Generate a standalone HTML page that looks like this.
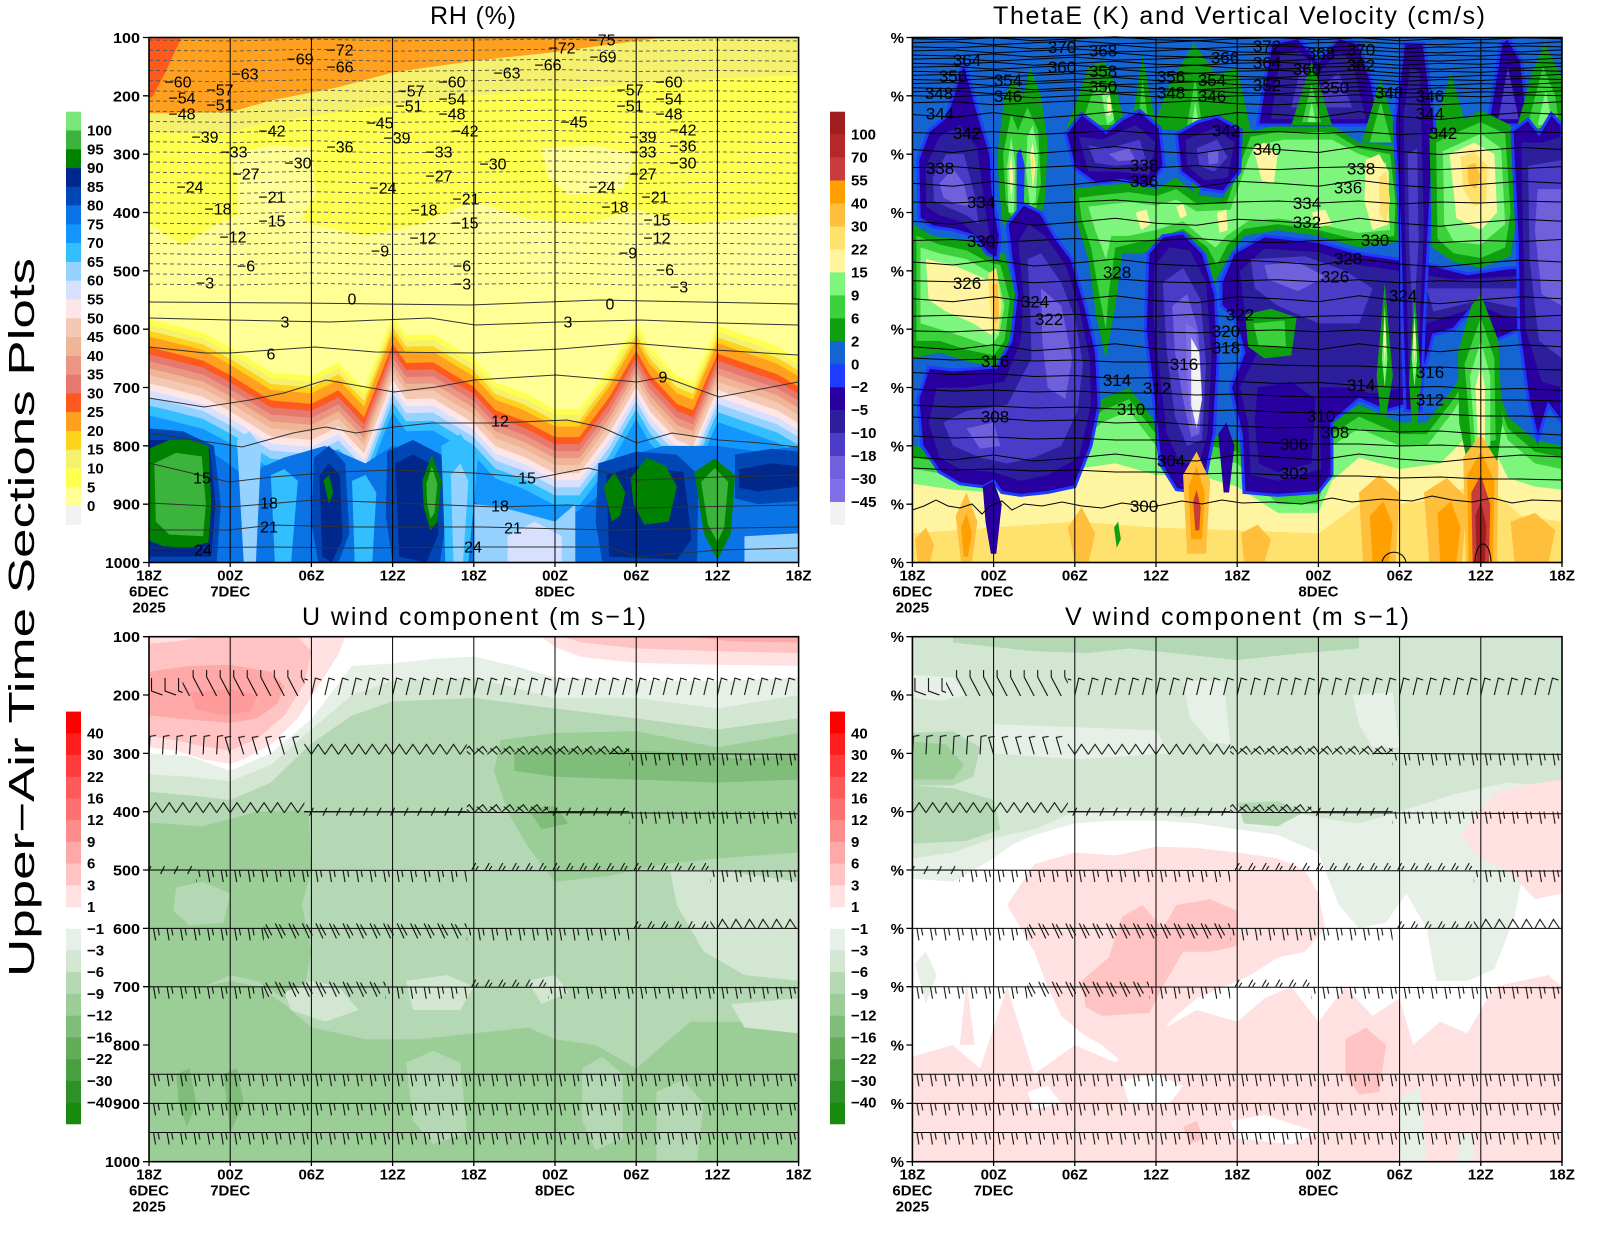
<!DOCTYPE html>
<html><head><meta charset="utf-8"><style>
html,body{margin:0;padding:0;background:#fff}
svg{display:block}
text{font-family:"Liberation Sans",sans-serif}
.ax{font-weight:bold;font-size:15px}
.cl{font-size:16px;text-anchor:middle}
.tl{font-size:17px;text-anchor:middle}
</style></head><body>
<svg xmlns="http://www.w3.org/2000/svg" width="1600" height="1236" viewBox="0 0 1600 1236">
<defs>
<polygon id="mb" points="0,613 1.3,620 4,636 6,661 9,704 12,710 14,687 15.9,733 18,607 19,640 21,639 24,681 25.6,721 27.7,739 30,767 31.8,767 34,699 36,619 37,660 39,710 40.2,721 42,624 44,640 46.4,659 48,681 48,1100 0,1100"/>
<path id="wa" d="M0,0 L40.6,1 L81.2,-1 L121.8,2 L162.4,0 L203,-2 L243.6,1 L284.2,2 L324.8,0 L365.4,-1 L406,1 L446.6,-1 L487.2,2 L527.8,0 L568.4,1 L609,-1 L649.6,0"/>
<path id="wb" d="M0,0 L40.6,-1 L81.2,2 L121.8,0 L162.4,-2 L203,1 L243.6,0 L284.2,-2 L324.8,1 L365.4,2 L406,0 L446.6,-1 L487.2,1 L527.8,2 L568.4,0 L609,1 L649.6,-1"/>
<path id="wc" d="M0,-5 L40.6,-3 L81.2,-4 L121.8,-2 L162.4,-3 L203,-1 L243.6,-1 L284.2,1 L324.8,0 L365.4,2 L406,3 L446.6,3 L487.2,5 L527.8,4 L568.4,6 L609,6 L649.6,7"/>
<path id="wd" d="M0,0 L40.6,3 L81.2,-2 L121.8,4 L162.4,1 L203,-3 L243.6,2 L284.2,4 L324.8,-2 L365.4,0 L406,3 L446.6,-3 L487.2,2 L527.8,5 L568.4,1 L609,-2 L649.6,0"/>
<path id="we" d="M0,-8 L40.6,-6 L81.2,-7 L121.8,-4 L162.4,-5 L203,-2 L243.6,-3 L284.2,0 L324.8,1 L365.4,3 L406,2 L446.6,5 L487.2,7 L527.8,6 L568.4,9 L609,8 L649.6,10"/>
<path id="rd" d="M0,0 L81,1 L162,-1 L244,1 L325,0 L406,-1 L487,1 L568,0 L649.6,1"/>
<pattern id="pW" patternUnits="userSpaceOnUse" x="-12" y="-30" width="13.533" height="45"><path d="M3,30 L5,42 M7.5,30 L8.8,37" stroke="#000" stroke-width="1" fill="none"/></pattern>
<pattern id="pL" patternUnits="userSpaceOnUse" x="-13" y="-30" width="13.533" height="45"><path d="M13,30 L2,26 L2,13" stroke="#000" stroke-width="1" fill="none"/></pattern>
<pattern id="pNW" patternUnits="userSpaceOnUse" x="-13" y="-30" width="13.533" height="45"><path d="M13,31 L3,12 L3,5" stroke="#000" stroke-width="1" fill="none"/></pattern>
<pattern id="pNE" patternUnits="userSpaceOnUse" x="-2" y="-30" width="13.533" height="45"><path d="M2,30 L6,13 L12,15" stroke="#000" stroke-width="1" fill="none"/></pattern>
<pattern id="pN" patternUnits="userSpaceOnUse" x="-3" y="-30" width="13.533" height="45"><path d="M3,31 L4,13 L10,12" stroke="#000" stroke-width="1" fill="none"/></pattern>
<pattern id="pN2" patternUnits="userSpaceOnUse" x="-10" y="-30" width="13.533" height="45"><path d="M10,31 L5,14 L11,13" stroke="#000" stroke-width="1" fill="none"/></pattern>
<pattern id="pZ" patternUnits="userSpaceOnUse" x="0" y="-30" width="13.533" height="45"><path d="M0,31 L6.77,21 L13.533,31" stroke="#000" stroke-width="1" fill="none"/></pattern>
<pattern id="pX" patternUnits="userSpaceOnUse" x="0" y="-30" width="13.533" height="45"><path d="M0,31 L9,23 L13.533,29 M3,25 L10,31" stroke="#000" stroke-width="1" fill="none"/></pattern>
<pattern id="pC" patternUnits="userSpaceOnUse" x="-6" y="-30" width="13.533" height="45"><path d="M4,34 L8,26 M0,30 L13.533,30" stroke="#000" stroke-width="1" fill="none"/></pattern>
<pattern id="pU" patternUnits="userSpaceOnUse" x="-6" y="-30" width="13.533" height="45"><path d="M4,30 L8,23 M8,30 L10.5,26" stroke="#000" stroke-width="1" fill="none"/></pattern>
<pattern id="pS" patternUnits="userSpaceOnUse" x="-10" y="-30" width="13.533" height="45"><path d="M1,25 L8,40 M5,26 L11,37" stroke="#000" stroke-width="1" fill="none"/></pattern>
<pattern id="pZs" patternUnits="userSpaceOnUse" x="0" y="-30" width="13.533" height="45"><path d="M0,30 L5,21 L11,30" stroke="#000" stroke-width="1" fill="none"/></pattern>
<g id="barbs" fill="none" stroke="#000" stroke-width="1">
 <g transform="translate(0,58.33)">
  <rect x="-7" y="-30" width="40.6" height="45" fill="url(#pL)" stroke="none"/>
  <rect x="33.6" y="-30" width="121.8" height="45" fill="url(#pNW)" stroke="none"/>
  <rect x="155.4" y="-30" width="500" height="45" fill="url(#pNE)" stroke="none"/>
 </g>
 <g transform="translate(0,116.67)">
  <rect x="-7" y="-30" width="81.2" height="45" fill="url(#pN)" stroke="none"/>
  <rect x="74.2" y="-30" width="81.2" height="45" fill="url(#pN2)" stroke="none"/>
  <rect x="155.4" y="-30" width="162.4" height="45" fill="url(#pZ)" stroke="none"/>
  <rect x="317.8" y="-30" width="162.4" height="45" fill="url(#pX)" stroke="none"/>
  <rect x="480.2" y="-30" width="175" height="45" fill="url(#pW)" stroke="none"/>
  <path d="M460,0 L649.6,1"/>
 </g>
 <g transform="translate(0,175)">
  <rect x="-7" y="-30" width="162.4" height="45" fill="url(#pZ)" stroke="none"/>
  <rect x="155.4" y="-30" width="162.4" height="45" fill="url(#pC)" stroke="none"/>
  <rect x="317.8" y="-30" width="81.2" height="45" fill="url(#pX)" stroke="none"/>
  <rect x="399" y="-30" width="81.2" height="45" fill="url(#pC)" stroke="none"/>
  <rect x="480.2" y="-30" width="175" height="45" fill="url(#pW)" stroke="none"/>
  <path d="M155,0 L649.6,2"/>
 </g>
 <g transform="translate(0,233.33)">
  <rect x="-7" y="-30" width="54" height="45" fill="url(#pC)" stroke="none"/>
  <rect x="47" y="-30" width="270.8" height="45" fill="url(#pW)" stroke="none"/>
  <rect x="317.8" y="-30" width="243.6" height="45" fill="url(#pU)" stroke="none"/>
  <rect x="561.4" y="-30" width="100" height="45" fill="url(#pW)" stroke="none"/>
  <path d="M0,0 L649.6,1"/>
 </g>
 <g transform="translate(0,291.67)">
  <rect x="-7" y="-30" width="121.8" height="45" fill="url(#pW)" stroke="none"/>
  <rect x="114.8" y="-30" width="203" height="45" fill="url(#pS)" stroke="none"/>
  <rect x="317.8" y="-30" width="162.4" height="45" fill="url(#pW)" stroke="none"/>
  <rect x="480.2" y="-30" width="81.2" height="45" fill="url(#pU)" stroke="none"/>
  <rect x="561.4" y="-30" width="95" height="45" fill="url(#pZs)" stroke="none"/>
  <path d="M0,0 L649.6,0"/>
 </g>
 <g transform="translate(0,350)">
  <rect x="-7" y="-30" width="121.8" height="45" fill="url(#pW)" stroke="none"/>
  <rect x="114.8" y="-30" width="121.8" height="45" fill="url(#pS)" stroke="none"/>
  <rect x="236.6" y="-30" width="81.2" height="45" fill="url(#pW)" stroke="none"/>
  <rect x="317.8" y="-30" width="81.2" height="45" fill="url(#pU)" stroke="none"/>
  <rect x="399" y="-30" width="260" height="45" fill="url(#pW)" stroke="none"/>
  <path d="M0,0 L649.6,1"/>
 </g>
 <g transform="translate(0,437.5)"><rect x="-7" y="-30" width="665" height="45" fill="url(#pW)" stroke="none"/><path d="M0,0 L649.6,0"/></g>
 <g transform="translate(0,466.67)"><rect x="-7" y="-30" width="665" height="45" fill="url(#pW)" stroke="none"/><path d="M0,0 L649.6,0"/></g>
 <g transform="translate(0,495.83)"><rect x="-7" y="-30" width="665" height="45" fill="url(#pW)" stroke="none"/><path d="M0,0 L649.6,0"/></g>
</g>
</defs>

<!-- ===================== RH PANEL ===================== -->
<svg x="149" y="37.5" width="649.6" height="525" viewBox="0 100 48 900" preserveAspectRatio="none">
<rect x="0" y="100" width="48" height="900" fill="#ffff96"/>
<polygon fill="#ffff50" points="0,100 48,100 48,400 44,410 40,420 36,395 32,420 28,410 24,380 20,420 16,440 12,420 9,380 5,420 2.5,455 0,420"/>
<polygon fill="#ffff96" points="6,300 9,285 12,290 12.3,370 11,420 8,430 6.5,400 6.5,340"/>
<polygon fill="#ffff96" points="29,290 33,285 36,300 35,360 31,370 29.5,340"/>
<polygon fill="#f5f06e" points="0,100 48,100 48,165 42,170 36,180 30,190 24,200 18,215 12,235 9,245 6,262 0,265"/>
<polygon fill="#ffa01e" points="0,100 38,100 34,112 30,125 24,140 18,160 14,185 9,208 6,228 0,230"/>
<polygon fill="#ff5a1e" points="0,100 2.4,100 1.2,160 0.3,200 0,205"/>
<use href="#mb" fill="#ffff50" transform="translate(0,-30)"/>
<use href="#mb" fill="#f5f06e" transform="translate(0,-20)"/>
<use href="#mb" fill="#ffd21e" transform="translate(0,-10)"/>
<use href="#mb" fill="#ffa01e"/>
<use href="#mb" fill="#ff5a1e" transform="translate(0,18)"/>
<use href="#mb" fill="#e6786e" transform="translate(0,30)"/>
<use href="#mb" fill="#eb9682" transform="translate(0,42)"/>
<use href="#mb" fill="#f0b496" transform="translate(0,54)"/>
<use href="#mb" fill="#f5c8b4" transform="translate(0,66)"/>
<use href="#mb" fill="#ffe6e6" transform="translate(0,80)"/>
<use href="#mb" fill="#d7e1ff" transform="translate(0,92)"/>
<use href="#mb" fill="#96d2ff" transform="translate(0,104)"/>
<use href="#mb" fill="#32beff" transform="translate(0,118)"/>
<use href="#mb" fill="#1496ff" transform="translate(0,135)"/>
<polygon fill="#0a73e6" points="0,790 4,800 7,850 10,820 13,800 16,830 18,800 21,810 23.5,890 26,920 30,940 33,890 35,820 38,800 42,800 45,810 48,800 48,1000 0,1000"/>
<polygon fill="#0046b4" points="0,770 2.5,775 4.8,800 5.3,900 5,1000 0,1000"/>
<polygon fill="#0046b4" points="12.2,820 13.3,800 14.5,830 14.8,950 14,1000 12.5,1000 12,930"/>
<polygon fill="#0046b4" points="17.6,810 19.5,790 21.6,815 22,920 21.5,1000 18,1000 17.5,920"/>
<polygon fill="#0046b4" points="33.2,830 36,810 39,815 40.6,850 40.5,1000 33.5,1000 33,930"/>
<polygon fill="#0046b4" points="43.3,815 46,805 48,810 48,895 45,900 43.3,890"/>
<polygon fill="#00288c" points="0,790 2,790 4.5,805 4.9,900 4.6,990 0,990"/>
<polygon fill="#00288c" points="12.6,850 13.3,830 14.1,850 14.3,960 13.5,1000 12.8,990"/>
<polygon fill="#00288c" points="18.2,830 19.5,815 21.2,835 21.4,950 20.5,1000 18.5,990"/>
<polygon fill="#00288c" points="33.8,850 36,835 39.5,845 40.1,960 39,995 34,990"/>
<polygon fill="#00288c" points="43.6,840 46,830 48,835 48,870 45,878 43.6,872"/>
<polygon fill="#96d2ff" points="6.5,790 7.4,775 8.3,800 7.9,1000 7,1000"/>
<polygon fill="#32beff" points="21.6,800 23,780 24.3,820 23.6,1000 21.9,1000"/>
<polygon fill="#96d2ff" points="22.3,850 23,830 23.6,860 23.2,1000 22.5,1000"/>
<polygon fill="#96d2ff" points="24,900 26,905 30,930 31.5,900 31.5,1000 24,1000"/>
<polygon fill="#d7e1ff" points="26.5,955 28.5,930 30.5,955 30.5,1000 26.5,1000"/>
<polygon fill="#32beff" points="9,850 10,840 11,860 10.5,1000 9.3,1000"/>
<polygon fill="#32beff" points="15,860 16,850 16.8,880 16.5,1000 15.2,1000"/>
<polygon fill="#96d2ff" points="44,955 48,950 48,1000 44,1000"/>
<polygon fill="#008200" points="0,805 1.5,790 3,790 4.4,800 4.6,900 4.4,965 3,975 1,972 0,962"/>
<polygon fill="#3cb43c" points="0.4,830 2,812 3.9,818 4.2,900 4,955 1.5,952 0.5,930"/>
<polygon fill="#008200" points="20.2,860 20.9,815 21.6,860 21.3,930 20.8,945 20.3,905"/>
<polygon fill="#3cb43c" points="20.5,865 20.9,835 21.3,865 21.1,915 20.8,925 20.55,900"/>
<polygon fill="#008200" points="12.9,860 13.3,850 13.6,880 13.3,900"/>
<polygon fill="#008200" points="33.6,870 34.4,845 35.2,880 34.8,920 34.2,930"/>
<polygon fill="#008200" points="35.6,855 36.8,820 38.2,835 39,870 38.4,930 36.6,935 35.8,900"/>
<polygon fill="#008200" points="40.3,845 41.8,822 43.3,850 43,950 42,995 41,950"/>
<polygon fill="#3cb43c" points="40.8,862 41.8,838 42.8,862 42.5,940 42,965 41.3,935"/>
</svg>
<g fill="none" stroke="#555" stroke-width="0.9" stroke-dasharray="4 3">
<use href="#rd" x="149" y="40"/><use href="#rd" x="149" y="50.2"/><use href="#rd" x="149" y="60.3"/><use href="#rd" x="149" y="70.5"/><use href="#rd" x="149" y="80.7"/>
<use href="#rd" x="149" y="90.9"/><use href="#rd" x="149" y="101"/><use href="#rd" x="149" y="111.2"/><use href="#rd" x="149" y="121.4"/><use href="#rd" x="149" y="131.5"/>
<use href="#rd" x="149" y="141.7"/><use href="#rd" x="149" y="151.9"/><use href="#rd" x="149" y="162"/><use href="#rd" x="149" y="172.2"/><use href="#rd" x="149" y="182.4"/>
<use href="#rd" x="149" y="192.6"/><use href="#rd" x="149" y="202.7"/><use href="#rd" x="149" y="212.9"/><use href="#rd" x="149" y="223.1"/><use href="#rd" x="149" y="233.2"/>
<use href="#rd" x="149" y="243.4"/><use href="#rd" x="149" y="253.6"/><use href="#rd" x="149" y="263.7"/><use href="#rd" x="149" y="273.9"/><use href="#rd" x="149" y="284.1"/>
</g>
<g fill="none" stroke="#333" stroke-width="1">
<path d="M149,302 L300,303 L470,305 L600,300 L798,304"/>
<path d="M149,318 L230,320 L330,322 L430,318 L475,325 L560,322 L640,320 L720,323 L798,325"/>
<path d="M149,347 L205,353 L230,353 L315,347 L375,352 L475,353 L560,349 L630,343 L715,350 L798,355"/>
<path d="M149,398 L204,407 L250,400 L284,393 L326,380 L394,392 L436,387 L474,380 L556,375 L637,382 L664,377 L719,397 L798,382"/>
<path d="M149,433 L242,447 L293,433 L326,427 L356,433 L394,427 L432,423 L495,423 L567,420 L601,427 L637,443 L672,433 L719,440 L761,443 L798,447"/>
<path d="M149,463 L229,482 L272,477 L339,472 L394,470 L474,473 L537,478 L588,468 L637,480 L719,477 L798,475"/>
<path d="M149,503 L229,507 L314,500 L398,503 L495,507 L567,505 L637,508 L798,505"/>
<path d="M149,530 L229,530 L272,525 L356,527 L482,527 L609,530 L798,527"/>
<path d="M149,548 L272,547 L356,548 L474,547 L609,547 L637,557 L719,550 L798,548"/>
</g>
<g stroke="#000" stroke-width="1">
<line x1="230.2" y1="37.5" x2="230.2" y2="562.5"/><line x1="311.4" y1="37.5" x2="311.4" y2="562.5"/><line x1="392.6" y1="37.5" x2="392.6" y2="562.5"/><line x1="473.8" y1="37.5" x2="473.8" y2="562.5"/><line x1="555" y1="37.5" x2="555" y2="562.5"/><line x1="636.2" y1="37.5" x2="636.2" y2="562.5"/><line x1="717.4" y1="37.5" x2="717.4" y2="562.5"/>
</g>
<g class="cl" fill="#000">
<text x="300" y="64.5">−69</text><text x="340" y="55.5">−72</text><text x="340" y="72.5">−66</text><text x="245" y="79.5">−63</text>
<text x="178" y="87.5">−60</text><text x="220" y="95.5">−57</text><text x="182" y="103.5">−54</text><text x="220" y="110.5">−51</text><text x="182" y="119.5">−48</text>
<text x="205" y="142.5">−39</text><text x="272" y="136.5">−42</text><text x="234" y="157.5">−33</text><text x="340" y="152.5">−36</text><text x="298" y="168.5">−30</text>
<text x="246" y="179.5">−27</text><text x="190" y="192.5">−24</text><text x="272" y="202.5">−21</text><text x="218" y="214.5">−18</text><text x="272" y="226.5">−15</text>
<text x="233" y="242.5">−12</text><text x="246" y="271.5">−6</text><text x="205" y="288.5">−3</text><text x="380" y="256.5">−9</text><text x="380" y="128.5">−45</text>
<text x="397" y="143.5">−39</text><text x="383" y="193.5">−24</text><text x="411" y="96.5">−57</text><text x="409" y="111.5">−51</text><text x="452" y="87.5">−60</text>
<text x="452" y="104.5">−54</text><text x="452" y="119.5">−48</text><text x="465" y="136.5">−42</text><text x="439" y="157.5">−33</text><text x="439" y="181.5">−27</text>
<text x="466" y="204.5">−21</text><text x="424" y="215.5">−18</text><text x="465" y="228.5">−15</text><text x="423" y="243.5">−12</text><text x="462" y="271.5">−6</text>
<text x="462" y="289.5">−3</text><text x="493" y="169.5">−30</text><text x="352" y="304.5">0</text><text x="285" y="327.5">3</text><text x="271" y="359.5">6</text>
<text x="507" y="78.5">−63</text><text x="548" y="70.5">−66</text><text x="562" y="53.5">−72</text><text x="602" y="45.5">−75</text><text x="603" y="62.5">−69</text>
<text x="574" y="127.5">−45</text><text x="669" y="87.5">−60</text><text x="630" y="95.5">−57</text><text x="669" y="104.5">−54</text><text x="630" y="111.5">−51</text>
<text x="669" y="119.5">−48</text><text x="683" y="135.5">−42</text><text x="643" y="142.5">−39</text><text x="683" y="151.5">−36</text><text x="643" y="157.5">−33</text>
<text x="683" y="168.5">−30</text><text x="643" y="179.5">−27</text><text x="602" y="192.5">−24</text><text x="655" y="202.5">−21</text><text x="615" y="212.5">−18</text>
<text x="657" y="225.5">−15</text><text x="657" y="243.5">−12</text><text x="628" y="258.5">−9</text><text x="665" y="275.5">−6</text><text x="679" y="292.5">−3</text>
<text x="610" y="309.5">0</text><text x="568" y="327.5">3</text><text x="663" y="382.5">9</text><text x="500" y="426.5">12</text><text x="202" y="483.5">15</text>
<text x="527" y="483.5">15</text><text x="269" y="508.5">18</text><text x="500" y="511.5">18</text><text x="269" y="532.5">21</text><text x="513" y="533.5">21</text>
<text x="203" y="555.5">24</text><text x="473" y="552.5">24</text>
</g>

<!-- ===================== THETAE PANEL ===================== -->
<svg x="912.4" y="37.5" width="649.6" height="525" viewBox="0 100 48 900" preserveAspectRatio="none">
<rect x="0" y="100" width="48" height="900" fill="#1464d2"/>
<polygon fill="#0fa00f" points="0,800 3,810 6,800 9,790 12,760 14,720 16,700 18,760 20,800 22,780 24,790 27,860 30,860 31,760 33,730 36,760 38,760 40,700 42,620 44,750 46,790 48,800 48,1000 0,1000"/>
<polygon fill="#3cd23c" points="0,820 3,830 6,820 9,810 12,780 14,740 16,720 18,780 20,820 22,800 24,810 27,880 30,880 31,780 33,750 36,780 38,780 40,720 42,640 44,770 46,810 48,820 48,1000 0,1000"/>
<polygon fill="#7ef67e" points="0,840 3,850 6,840 9,830 12,800 14,760 16,740 18,800 20,840 22,820 24,830 27,900 30,900 31,800 33,770 36,800 38,800 40,740 42,660 44,790 46,830 48,840 48,1000 0,1000"/>
<polygon fill="#fff5a0" points="0,865 3,875 6,880 9,860 12,840 15,830 18,850 21,850 24,870 27,915 30,915 31,860 33,820 36,840 39,830 42,760 44,855 46,870 48,875 48,1000 0,1000"/>
<polygon fill="#ffe16e" points="0,950 6,940 12,930 18,940 24,945 30,950 33,900 36,900 39,890 42,860 45,920 48,930 48,1000 0,1000"/>
<polygon fill="#0fa00f" points="0,420 1.5,440 3,445 4.5,450 5.8,470 6.8,470 7.6,540 7.2,620 6.3,665 4,655 2,640 0,650"/>
<polygon fill="#3cd23c" points="0.3,440 2,455 4,465 5.6,485 6.5,490 7.2,550 6.8,620 6,645 4,635 2,620 0.3,620"/>
<polygon fill="#7ef67e" points="0.6,460 2,470 4,480 5.5,500 6.3,510 6.8,560 6.4,610 5.8,630 4,615 2,600 0.6,590"/>
<polygon fill="#fff5a0" points="1,480 3,490 4.5,505 5.5,515 6.2,530 6.4,590 5.8,610 4.5,590 2.5,570 1.2,550"/>
<polygon fill="#ffe16e" points="5.6,505 6.2,495 6.6,560 6.3,610 5.9,600 5.7,550"/>
<polygon fill="#ffbe3c" points="5.9,525 6.3,520 6.4,580 6.1,590"/>
<polygon fill="#0fa00f" points="11.8,360 13.5,355 16,350 18,360 19.5,340 21,370 23,375 24,300 24.3,250 25.3,260 27,250 28,250 31,250 33,280 35.5,285 36,380 36,450 33,460 30,440 27,430 24.5,440 23.5,470 22.3,520 21.7,470 20,440 18,460 17,470 15.5,470 15,560 14.3,650 13.6,580 13,480 12.2,420"/>
<polygon fill="#3cd23c" points="12.3,375 14,370 16,365 18,372 19.5,360 21,385 23.2,385 24.5,300 25,270 27,262 31,262 33,290 35.3,300 35.7,380 35.6,440 33,448 30,430 27,420 24.5,428 23.3,455 22.5,490 21.8,460 20,428 18,445 16.5,452 15,460 14.5,540 14.3,600 13.8,540 13.2,460 12.5,410"/>
<polygon fill="#7ef67e" points="13,390 16,382 18,388 19.5,378 21,398 23.5,395 24.8,310 25.3,285 27.5,275 31,275 33,300 35,315 35.3,430 33,435 30,420 27,410 24.8,415 23.2,440 22.4,460 21.5,445 20,415 18,430 16,440 14.7,440 14.3,480 14,460 13.5,430"/>
<polygon fill="#fff5a0" points="25.2,290 26,280 27,300 26.7,350 25.8,345"/>
<polygon fill="#fff5a0" points="33.5,310 34.5,300 35.2,330 35.2,420 34,430 33.4,380"/>
<polygon fill="#ffe16e" points="34.5,340 35,330 35.3,380 35,420 34.5,400"/>
<polygon fill="#fff5a0" points="16.5,400 17.3,395 17.6,420 16.9,430"/>
<polygon fill="#fff5a0" points="22.5,400 23.2,395 23.3,430 22.7,435"/>
<polygon fill="#fff5a0" points="29.5,400 30.5,395 31,420 30,425"/>
<polygon fill="#fff5a0" points="19.5,390 20,385 20.3,405 19.8,410"/>
<polygon fill="#2800a0" stroke="#1e3cff" stroke-width="3" vector-effect="non-scaling-stroke" points="0.4,310 1.2,260 2.5,235 3.8,140 5,240 5.8,300 6,380 6.5,440 6.3,480 5.5,470 4.5,440 3,430 1.5,425 0.5,410"/>
<polygon fill="#2d1e9b" points="1,320 2,270 3.5,250 4.8,290 5.3,380 5.7,440 5,445 3.5,415 2,405 1,390"/>
<polygon fill="#4b3cc8" points="1.5,340 2.5,300 3.8,300 4.6,370 4.9,420 4,405 2.5,390 1.6,380"/>
<polygon fill="#7060dc" points="2,350 3,325 3.8,350 4.2,390 3.2,385 2.3,375"/>
<polygon fill="#2800a0" stroke="#1e3cff" stroke-width="3" vector-effect="non-scaling-stroke" points="25.5,250 26.5,110 28.5,100 30,140 31.5,100 33,110 34,180 34.5,250"/>
<polygon fill="#2d1e9b" points="26.5,240 27.2,130 28.5,120 30,160 31.5,125 32.5,140 33.5,240"/>
<polygon fill="#4b3cc8" points="28,220 28.7,150 30,190 31.5,160 32.5,220"/>
<polygon fill="#0fa00f" points="6.3,300 6.8,200 7.5,170 8.2,200 8.7,150 9.5,200 10,280 9.8,380 9.3,420 8.5,440 7.5,440 6.7,420 6.4,360"/>
<polygon fill="#3cd23c" points="6.7,300 7.3,230 7.8,260 8.5,220 9.3,260 9.5,350 9,410 8.3,420 7.4,415 6.9,380"/>
<polygon fill="#7ef67e" points="7,320 7.3,270 7.6,320 7.5,400 7.1,400"/>
<polygon fill="#7ef67e" points="8.5,270 8.9,250 9.3,300 9.1,380 8.7,390 8.4,330"/>
<polygon fill="#fff5a0" points="7.15,330 7.3,300 7.45,340 7.3,380"/>
<polygon fill="#fff5a0" points="8.7,300 8.9,280 9.1,320 8.9,360"/>
<polygon fill="#ffe16e" points="8.8,310 8.9,300 9,330 8.9,345"/>
<polygon fill="#1e3cff" points="7.7,300 8,290 8.3,320 8.2,430 7.9,440 7.7,400"/>
<polygon fill="#0fa00f" points="11.3,260 12.3,200 13,150 14.2,140 15,180 15.8,260"/>
<polygon fill="#3cd23c" points="12.5,250 13.5,180 14.5,200 15,250"/>
<polygon fill="#7ef67e" points="14,200 14.5,185 14.9,240 14.4,250"/>
<polygon fill="#fff5a0" points="14.35,205 14.6,200 14.7,230 14.45,235"/>
<polygon fill="#0fa00f" points="16.2,250 17,130 18,250"/>
<polygon fill="#3cd23c" points="16.7,240 17,170 17.4,240"/>
<polygon fill="#0fa00f" points="17.8,255 19,180 20.8,110 22.5,165 24,150 25,260 23,250 21.6,330 21,380 20.4,330 19.8,260"/>
<polygon fill="#3cd23c" points="20.3,250 20.9,170 21.4,250 21.2,320 20.8,320"/>
<polygon fill="#7ef67e" points="20.6,255 20.9,210 21.2,255 21,310 20.8,310"/>
<polygon fill="#0fa00f" points="28,250 29.5,140 31,250"/>
<polygon fill="#3cd23c" points="28.8,245 29.5,180 30.2,245"/>
<polygon fill="#7ef67e" points="29.2,245 29.5,210 29.8,245"/>
<polygon fill="#0fa00f" points="33.2,280 34.6,170 36,280"/>
<polygon fill="#3cd23c" points="33.8,280 34.6,210 35.4,280"/>
<polygon fill="#0fa00f" points="38.5,260 39.8,160 41,260"/>
<polygon fill="#2800a0" stroke="#1e3cff" stroke-width="3" vector-effect="non-scaling-stroke" points="42.5,250 43.5,110 44,100 45,140 45.5,250"/>
<polygon fill="#4b3cc8" points="43.3,240 44,150 44.8,240"/>
<polygon fill="#0fa00f" points="44.6,260 45.8,160 46.7,110 47.6,150 48,170 48,260"/>
<polygon fill="#3cd23c" points="45.4,255 46.6,150 47.5,200 47.8,255"/>
<polygon fill="#7ef67e" points="46.2,250 46.8,190 47.3,250"/>
<polygon fill="#2800a0" stroke="#1e3cff" stroke-width="3" vector-effect="non-scaling-stroke" points="11.3,265 12.5,230 14.3,262 15.5,240 16.8,225 18.3,255 18.6,320 17.5,355 15.5,345 13.5,350 12,325"/>
<polygon fill="#2d1e9b" points="12.3,270 14,275 16.5,250 18,280 17.5,335 15,330 13,330"/>
<polygon fill="#4b3cc8" points="13,285 14.5,290 16.8,275 17.3,315 15,320 13.5,315"/>
<polygon fill="#7060dc" points="14.5,300 16,290 16.5,310 15.2,312"/>
<polygon fill="#2800a0" stroke="#1e3cff" stroke-width="3" vector-effect="non-scaling-stroke" points="19.5,265 21,245 22.5,235 24.3,258 24.2,330 23,365 21.5,360 19.8,330"/>
<polygon fill="#2d1e9b" points="20.2,275 22.3,255 23.8,280 23.3,340 21.6,345 20.3,320"/>
<polygon fill="#4b3cc8" points="21,290 22.5,275 23.3,305 22.3,330 21.2,320"/>
<polygon fill="#7060dc" points="21.8,295 22.6,295 22.6,315 21.9,318"/>
<polygon fill="#2800a0" stroke="#1e3cff" stroke-width="3" vector-effect="non-scaling-stroke" points="7,420 8.2,385 9.5,400 10.5,440 11.8,480 12.8,560 13.6,640 13.8,730 13.2,800 12,870 10,880 8,885 6.6,880 6,860 5.2,870 3.5,865 2,845 0.7,800 0.4,720 1.2,665 3,670 6.2,665 7.3,620 7.7,540 7.3,480"/>
<polygon fill="#2d1e9b" points="7.8,450 8.6,420 9.8,440 11.3,490 12.3,560 13.1,650 13.2,730 12.3,820 10,850 8,860 6,845 3.5,840 2,820 1.2,760 1.8,700 4,700 6.8,690 8,620 8.2,540"/>
<polygon fill="#4b3cc8" points="8.5,480 9.5,470 11,520 12,580 12.6,660 12.2,740 11,800 9,820 7,830 5,820 3,800 2.3,760 4,740 7,730 8.8,650 8.7,560"/>
<polygon fill="#7060dc" points="9.5,530 11,560 11.8,650 11.3,720 10,700 9.6,620"/>
<polygon fill="#7060dc" points="4,770 6,760 6.5,800 5,805"/>
<polygon fill="#2800a0" points="5.2,870 6,860 6.6,900 6.2,985 5.8,985 5.4,930"/>
<polygon fill="#2800a0" stroke="#1e3cff" stroke-width="3" vector-effect="non-scaling-stroke" points="22.8,520 23.7,470 26,440 30,450 33,470 36,480 38.5,490 41,505 44,495 48,490 48,620 45,600 43,620 41.5,560 40,600 38.5,610 37.5,700 36.5,730 35,740 33,720 31,760 31,850 30,880 27,885 24.5,880 24.3,780 23.5,700 24.5,640 23.8,580 22.8,560"/>
<polygon fill="#2d1e9b" points="24.2,500 26,462 30,468 33,490 36,500 40,515 44,510 47.5,505 47.5,590 44,580 42,560 40,575 38,590 36.5,700 34,710 32,700 30,700 30.2,840 27,860 25,850 24.8,760 24.2,700 25.5,640 24.5,560"/>
<polygon fill="#4b3cc8" points="25,480 29,475 32,500 34,530 33,590 30,590 27,560 25.3,530"/>
<polygon fill="#2800a0" points="25.5,700 28,690 29.8,720 29.5,830 27,845 25.6,830 25.3,760"/>
<polygon fill="#4b3cc8" points="38,530 42,530 46,530 46,570 42,550 38.5,570"/>
<polygon fill="#7060dc" points="26,490 28.5,485 30.5,510 28.5,535 26.3,515"/>
<polygon fill="#0fa00f" points="24.6,575 26.5,565 28.4,580 28,645 26,650 24.8,630"/>
<polygon fill="#3cd23c" points="25.2,590 27.5,585 27.6,630 25.6,630"/>
<polygon fill="#2800a0" points="22.6,780 23.2,760 23.8,800 23.4,880 23,880"/>
<polygon fill="#2800a0" stroke="#1e3cff" stroke-width="3" vector-effect="non-scaling-stroke" points="17.4,470 18.5,440 20,435 21.5,470 22.4,540 22.6,650 22.3,780 21.7,850 21,880 19.5,875 18.3,830 17.8,720 17.2,600"/>
<polygon fill="#2d1e9b" points="17.9,490 19,460 20.5,465 21.7,520 22.1,650 21.8,780 21.2,830 19.8,830 18.8,780 18.3,680 17.8,580"/>
<polygon fill="#4b3cc8" points="18.5,520 20,495 21.3,550 21.7,660 21.4,790 20.3,800 19.4,750 18.8,640"/>
<polygon fill="#7060dc" points="19.2,560 20.3,540 21.1,600 21.4,700 21.2,780 20.6,785 20,720 19.4,640"/>
<polygon fill="#8070e8" points="20.2,590 20.9,600 21.3,680 21.2,760 20.7,770 20.3,690"/>
<polygon fill="#f2f2f2" points="20.6,615 21.2,640 21.4,720 21,770 20.6,730"/>
<polygon fill="#2800a0" stroke="#1e3cff" stroke-width="3" vector-effect="non-scaling-stroke" points="35.6,250 36.3,110 37.8,110 38.6,250 38.2,420 37.8,600 37.6,740 36.4,740 36.2,600 36,420"/>
<polygon fill="#2d1e9b" points="36.3,230 36.8,150 37.5,160 37.8,420 37.3,700 36.7,700 36.4,420"/>
<polygon fill="#4b3cc8" points="36.6,300 37.3,290 37.4,450 37,600 36.7,450"/>
<polygon fill="#0fa00f" points="38.2,265 40,250 42,225 44.2,250 44.7,400 44.2,475 42,495 40,485 38.4,460"/>
<polygon fill="#3cd23c" points="38.7,280 40,265 42,245 43.8,265 44.2,400 43.8,460 42,478 40,470 38.8,445"/>
<polygon fill="#7ef67e" points="39.2,295 42,265 43.5,290 43.8,420 42,455 40,450 39.3,420"/>
<polygon fill="#fff5a0" points="39.7,300 41.5,280 43,300 43.2,400 42,430 40.2,410"/>
<polygon fill="#ffe16e" points="40.5,305 41.5,295 42.5,320 42.4,380 41.5,390 40.7,360"/>
<polygon fill="#ffbe3c" points="41,320 41.6,315 42,340 41.6,360 41.1,350"/>
<polygon fill="#2800a0" stroke="#1e3cff" stroke-width="3" vector-effect="non-scaling-stroke" points="44.3,260 45.5,240 46.3,265 47.2,230 48,250 48,760 47,730 46.2,790 45.5,720 44.8,600 44.7,450"/>
<polygon fill="#2d1e9b" points="45,280 46.5,280 48,270 48,700 46.5,690 45.3,600 45.1,420"/>
<polygon fill="#4b3cc8" points="45.5,320 48,310 48,650 46.3,620 45.6,480"/>
<polygon fill="#7060dc" points="46.2,360 48,360 48,560 46.5,540 46,430"/>
<polygon fill="#0fa00f" points="34.3,680 34.9,520 35.5,680 35,750 34.6,750"/>
<polygon fill="#7ef67e" points="34.7,650 34.9,560 35.1,650 34.9,700"/>
<polygon fill="#fff5a0" points="34.8,620 34.9,580 35,620 34.9,660"/>
<polygon fill="#0fa00f" points="36.7,690 37.1,530 37.6,690 37.3,760 36.9,760"/>
<polygon fill="#7ef67e" points="36.9,650 37.1,570 37.3,650 37.1,700"/>
<polygon fill="#fff5a0" points="37,620 37.1,590 37.2,620 37.1,660"/>
<polygon fill="#0fa00f" points="40.3,640 41.3,560 42,540 43.3,620 43.6,760 43.2,830 41,830 40.4,760"/>
<polygon fill="#3cd23c" points="40.8,660 42,580 43,650 43.1,790 41.3,800"/>
<polygon fill="#7ef67e" points="41.2,680 42,620 42.7,680 42.7,800 41.6,800"/>
<polygon fill="#fff5a0" points="41.6,700 42,660 42.3,700 42.3,800 41.8,800"/>
<polygon fill="#ffbe3c" points="0.2,960 1,940 1.6,970 1.3,1000 0.4,1000"/>
<polygon fill="#ffbe3c" points="3.2,920 4,880 4.8,930 4.4,1000 3.6,1000"/>
<polygon fill="#ffa000" points="3.6,940 4,915 4.4,950 4.1,990 3.8,990"/>
<polygon fill="#ffbe3c" points="11.5,940 12.5,905 13.5,950 13,1000 12,1000"/>
<polygon fill="#0fa00f" points="14.9,940 15.2,930 15.4,960 15.1,975"/>
<polygon fill="#ffbe3c" points="20,850 21,810 22,860 21.7,985 20.3,985"/>
<polygon fill="#ffa000" points="20.4,870 21,835 21.6,880 21.4,960 20.6,960"/>
<polygon fill="#c83c3c" points="20.75,895 21,875 21.3,905 21.2,945 20.9,945"/>
<polygon fill="#ffbe3c" points="24.3,950 25.5,935 26.5,960 26,1000 24.5,1000"/>
<polygon fill="#ffbe3c" points="33,880 34.5,850 36,880 35.7,1000 33.3,1000"/>
<polygon fill="#ffa000" points="33.8,920 34.8,895 35.5,935 35.2,1000 34,1000"/>
<polygon fill="#ffbe3c" points="37.8,880 39.5,855 41,890 40.6,1000 38.2,1000"/>
<polygon fill="#ffa000" points="38.8,915 39.8,895 40.5,940 40.2,1000 39,1000"/>
<polygon fill="#ffbe3c" points="40.7,820 42,780 43.3,830 43.2,1000 40.9,1000"/>
<polygon fill="#ffa000" points="41,850 42,810 43,860 42.9,1000 41.1,1000"/>
<polygon fill="#c83c3c" points="41.3,880 42,850 42.7,900 42.6,1000 41.4,1000"/>
<polygon fill="#a01e1e" points="41.6,920 42,895 42.4,935 42.3,1000 41.7,1000"/>
<polygon fill="#ffbe3c" points="44.2,930 46,915 47.5,945 47,1000 44.5,1000"/>
</svg>
<g fill="none" stroke="#000" stroke-width="1">
<use href="#wa" x="912.4" y="38.7"/><use href="#wb" x="912.4" y="42.8"/><use href="#wa" x="912.4" y="46.9"/><use href="#wb" x="912.4" y="50.9"/><use href="#wa" x="912.4" y="55"/>
<use href="#wb" x="912.4" y="59.1"/><use href="#wa" x="912.4" y="63.2"/><use href="#wb" x="912.4" y="67.3"/><use href="#wa" x="912.4" y="71.3"/><use href="#wb" x="912.4" y="75.4"/>
<use href="#wa" x="912.4" y="79.5"/><use href="#wb" x="912.4" y="83.6"/><use href="#wa" x="912.4" y="87.7"/><use href="#wb" x="912.4" y="91.7"/><use href="#wa" x="912.4" y="95.8"/>
<use href="#wb" x="912.4" y="102.8"/><use href="#wd" x="912.4" y="114.5"/><use href="#wa" x="912.4" y="132.6"/><use href="#wd" x="912.4" y="149.5"/><use href="#wb" x="912.4" y="167.6"/>
<use href="#wd" x="912.4" y="183.3"/><use href="#wa" x="912.4" y="202"/><use href="#wd" x="912.4" y="221.2"/><use href="#wb" x="912.4" y="240.5"/><use href="#wd" x="912.4" y="262"/>
<use href="#wa" x="912.4" y="280.7"/><use href="#wd" x="912.4" y="298.8"/><use href="#wb" x="912.4" y="316.3"/><use href="#wa" x="912.4" y="330.9"/><use href="#wd" x="912.4" y="346.7"/>
<use href="#wc" x="912.4" y="363"/><use href="#we" x="912.4" y="380.5"/><use href="#wc" x="912.4" y="394"/><use href="#wc" x="912.4" y="410"/><use href="#we" x="912.4" y="425"/>
<use href="#wc" x="912.4" y="441"/><use href="#wd" x="912.4" y="457"/><use href="#wc" x="912.4" y="473"/>
<path d="M912.4,510 L924,506 L936,500 L948,506 L960,508 L972,504 L982,514 L990,506 L1002,501 L1012,510 L1024,504 L1042,506 L1062,502 L1082,506 L1102,508 L1122,503 L1152,507 L1182,501 L1202,504 L1222,500 L1242,503 L1272,502 L1302,504 L1332,498 L1352,502 L1382,499 L1412,501 L1432,496 L1452,500 L1472,502 L1492,498 L1512,503 L1532,500 L1562,501"/>
<path d="M1475,562 C1476,538 1490,538 1491,562"/>
<path d="M1382,562 C1385,549 1403,549 1406,562"/>
</g>
<g stroke="#000" stroke-width="1">
<line x1="993.6" y1="37.5" x2="993.6" y2="562.5"/><line x1="1074.8" y1="37.5" x2="1074.8" y2="562.5"/><line x1="1156" y1="37.5" x2="1156" y2="562.5"/><line x1="1237.2" y1="37.5" x2="1237.2" y2="562.5"/><line x1="1318.4" y1="37.5" x2="1318.4" y2="562.5"/><line x1="1399.6" y1="37.5" x2="1399.6" y2="562.5"/><line x1="1480.8" y1="37.5" x2="1480.8" y2="562.5"/>
</g>
<g class="tl" fill="#000">
<text x="967" y="66">364</text><text x="953" y="82">356</text><text x="939" y="99">348</text><text x="940" y="119.5">344</text><text x="967" y="139">342</text>
<text x="940" y="174">338</text><text x="981" y="208">334</text><text x="981" y="247">330</text><text x="967" y="289">326</text><text x="1035" y="307.5">324</text>
<text x="1049" y="325">322</text><text x="995" y="367">316</text><text x="995" y="422.5">308</text><text x="1008" y="86">354</text><text x="1008" y="102">346</text>
<text x="1062" y="53">370</text><text x="1062" y="73">360</text><text x="1103" y="56.5">368</text><text x="1103" y="77">358</text><text x="1103" y="92.5">350</text>
<text x="1144" y="171">338</text><text x="1144" y="187">336</text><text x="1117" y="278">328</text><text x="1117" y="386">314</text><text x="1157" y="394">312</text>
<text x="1131" y="415">310</text><text x="1171" y="466.5">304</text><text x="1144" y="512">300</text><text x="1184" y="370">316</text><text x="1171" y="82.5">356</text>
<text x="1171" y="98.5">348</text><text x="1212" y="86">354</text><text x="1212" y="102">346</text><text x="1225" y="63.5">366</text><text x="1226" y="136.5">342</text>
<text x="1240" y="320.5">322</text><text x="1226" y="337">320</text><text x="1226" y="353.5">318</text><text x="1267" y="52">372</text><text x="1267" y="68.5">364</text>
<text x="1267" y="91">352</text><text x="1267" y="155">340</text><text x="1294" y="450">306</text><text x="1294" y="479">302</text><text x="1321" y="59">368</text>
<text x="1307" y="75">360</text><text x="1335" y="93.5">350</text><text x="1307" y="209">334</text><text x="1307" y="228">332</text><text x="1335" y="282.5">326</text>
<text x="1321" y="422">310</text><text x="1335" y="438">308</text><text x="1361" y="55.5">370</text><text x="1361" y="71">362</text><text x="1361" y="174.5">338</text>
<text x="1348" y="193.5">336</text><text x="1375" y="246">330</text><text x="1348" y="264.5">328</text><text x="1361" y="391">314</text><text x="1389" y="98.5">348</text>
<text x="1430" y="102">346</text><text x="1430" y="119.5">344</text><text x="1443" y="139">342</text><text x="1403" y="301.5">324</text><text x="1430" y="378">316</text>
<text x="1430" y="405.5">312</text>
</g>

<!-- ===================== U PANEL ===================== -->
<svg x="149" y="636.7" width="649.6" height="525" viewBox="0 100 48 900" preserveAspectRatio="none">
<rect x="0" y="100" width="48" height="900" fill="#fff"/>
<polygon fill="#e6f0e6" points="0,300 3,305 6,330 9,300 12,241 15,150 18,146 21,138 24,134 27,150 30,170 33,172 36,175 42,176 48,170 48,1000 0,1000"/>
<polygon fill="#d2e6d2" points="0,336 3,340 6,348 9,320 12,259 15,200 18,176 24,170 30,205 36,205 42,223 48,200 48,1000 0,1000"/>
<polygon fill="#b4d7b4" points="0,366 3,372 6,380 9,350 12,283 15,235 18,211 24,205 30,223 36,240 42,259 48,240 48,1000 0,1000"/>
<polygon fill="#9bcd96" points="0,419 4,425 8,400 11.8,398 12,500 11.3,560 12,640 11.5,700 10,720 8,690 6,680 4,700 2,680 0,660"/>
<polygon fill="#9bcd96" points="26,277 30,265 36,262 42,290 48,265 48,470 42,480 38,490 34,510 30,520 28,460 26.5,400 25.5,330"/>
<polygon fill="#9bcd96" points="0,660 2,680 4,700 6,690 8,700 10,730 12,770 16,790 20,790 24,780 28,770 30,790 33,800 36,840 38,800 40,760 44,760 48,750 48,1000 0,1000"/>
<polygon fill="#b4d7b4" points="2,530 4,520 6,540 5.5,590 3,595 1.8,570"/>
<polygon fill="#b4d7b4" points="19,830 21,810 23,830 23.5,950 21,970 19.5,930"/>
<polygon fill="#b4d7b4" points="32,840 33.5,820 35,850 35,960 33,980 32,930"/>
<polygon fill="#b4d7b4" points="37.5,880 39.5,860 41,900 40.5,1000 37.5,1000"/>
<polygon fill="#d2e6d2" points="10,710 12,690 14,700 15.5,740 13,760 10.5,740"/>
<polygon fill="#d2e6d2" points="19,690 22,680 24,700 23,740 19.5,740"/>
<polygon fill="#d2e6d2" points="28,690 30,680 31,710 29,730"/>
<polygon fill="#d2e6d2" points="38.5,500 42,500 48,520 48,690 44,680 41,640 39,560"/>
<polygon fill="#d2e6d2" points="43,730 48,720 48,780 44,770"/>
<polygon fill="#80bd7a" points="27,300 30,292 36,295 40,300 44,310 48,300 48,345 42,350 36,345 30,340 27,330"/>
<polygon fill="#80bd7a" points="2,850 3,840 3.5,900 2.8,940 2.2,900"/>
<polygon fill="#80bd7a" points="5.5,850 6.5,840 7,900 6,950"/>
<polygon fill="#80bd7a" points="28,395 30,390 31,420 29,430"/>
<polygon fill="#ffe1e1" points="0,100 14.5,100 14,130 12.5,185 11,240 9,285 7,310 6,318 4,310 2,295 0,290"/>
<polygon fill="#ffc3c3" points="0,112 2,108 4,100 11,100 12,125 11.5,180 10,235 8,275 6,295 4,288 2,278 0,270"/>
<polygon fill="#ffa8a8" points="0,160 3,150 6,148 9,160 10,185 9.5,215 8,240 6,248 3,242 0,235"/>
<polygon fill="#ff9a9a" points="3,195 6,190 8,200 7.5,228 5.5,235 3.5,225"/>
<polygon fill="#ffe1e1" points="29,100 48,100 48,150 42,148 36,145 32,135 30,118"/>
<polygon fill="#ffc3c3" points="30.5,100 48,100 48,128 42,125 36,120 32,110"/>
<polygon fill="#ffa8a8" points="40,100 48,100 48,110 43,108"/>
</svg>

<!-- ===================== V PANEL ===================== -->
<svg x="912.4" y="636.7" width="649.6" height="525" viewBox="0 100 48 900" preserveAspectRatio="none">
<rect x="0" y="100" width="48" height="900" fill="#fff"/>
<polygon fill="#e6f0e6" points="0,100 48,100 48,450 46,470 45,520 44.5,580 43,670 41,690 38.7,690 38,600 36.5,540 35,590 33,600 31.5,560 30,470 27,440 24,430 21,420 18,415 15,415 12,420 9,440 7.5,455 6,480 3,520 0,515"/>
<polygon fill="#d2e6d2" points="0,100 48,100 48,360 44,350 40,370 36,400 33,420 30,410 27,395 24,400 20,410 16,395 12,400 9,430 6,445 3,470 0,480"/>
<polygon fill="#e6f0e6" points="0,165 3,170 4,200 2,210 0,205"/>
<polygon fill="#e6f0e6" points="20,175 23,175 23.5,285 22,280 20.5,240"/>
<polygon fill="#e6f0e6" points="32.5,200 35.5,195 36,290 34,290 33,250"/>
<polygon fill="#e6f0e6" points="6,250 12,255 18,260 19,300 12,310 6,300"/>
<polygon fill="#b4d7b4" points="3,100 33,100 33,120 28,130 24,140 20,130 16,120 13,128 9,125 5,115 3,110"/>
<polygon fill="#b4d7b4" points="0,265 3,262 5,290 4.5,340 3,355 0,355"/>
<polygon fill="#b4d7b4" points="0,355 3,360 6,380 6.5,430 4,450 0,455"/>
<polygon fill="#b4d7b4" points="24,385 27,382 29,400 27,425 24.5,420"/>
<polygon fill="#9bcd96" points="0,280 2.5,285 3.8,320 3,345 0,345"/>
<polygon fill="#ffe1e1" points="7,560 9,490 12,470 15,475 18,460 21,462 24,470 27,480 29,500 30,540 30.5,600 29,640 27,650 25,680 23,700 21,720 19,760 17.5,820 16,840 14,800 12.5,780 11,750 10,700 9,640 8,600"/>
<polygon fill="#ffc3c3" points="12.5,690 14.5,650 15.5,580 17,560 18.5,600 19.5,560 22,550 24,570 24,630 22,640 20,640 18.5,700 17.5,745 14,750 12.8,735"/>
<polygon fill="#ffe1e1" points="0,820 3,800 5,840 7,700 9,850 12,800 15,830 18,780 21,740 24,760 26,720 28,700 30,760 32,700 34,750 36,720 37,800 39,760 41,780 43,700 45,690 47,680 48,700 48,1000 0,1000"/>
<polygon fill="#fff" points="15.5,860 18,850 20,870 19,900 16,900"/>
<polygon fill="#fff" points="23.5,930 26,920 30,950 28,970 24,960"/>
<polygon fill="#fff" points="8.5,880 10,870 11,900 9,910"/>
<polygon fill="#e6f0e6" points="36,890 37.5,870 38,1000 36,1000"/>
<polygon fill="#e6f0e6" points="40.3,960 41.5,950 41.5,1000 40.3,1000"/>
<polygon fill="#ffc3c3" points="32,790 33.5,770 35,800 34.5,880 33,885 32,850"/>
<polygon fill="#ffc3c3" points="20,940 21,930 21.5,960 20.5,970"/>
<polygon fill="#ffe1e1" points="40.5,440 43,370 45,355 48,345 48,540 46,550 44,500 42,480"/>
<polygon fill="#e6f0e6" points="0.2,660 1,640 1.8,680 1,730"/>
<polygon fill="#ffe1e1" points="3.5,800 4,690 4.6,800"/>
</svg>

<g stroke="#000" stroke-width="1">
<line x1="230.2" y1="636.7" x2="230.2" y2="1161.7"/><line x1="311.4" y1="636.7" x2="311.4" y2="1161.7"/><line x1="392.6" y1="636.7" x2="392.6" y2="1161.7"/><line x1="473.8" y1="636.7" x2="473.8" y2="1161.7"/><line x1="555" y1="636.7" x2="555" y2="1161.7"/><line x1="636.2" y1="636.7" x2="636.2" y2="1161.7"/><line x1="717.4" y1="636.7" x2="717.4" y2="1161.7"/>
<line x1="993.6" y1="636.7" x2="993.6" y2="1161.7"/><line x1="1074.8" y1="636.7" x2="1074.8" y2="1161.7"/><line x1="1156" y1="636.7" x2="1156" y2="1161.7"/><line x1="1237.2" y1="636.7" x2="1237.2" y2="1161.7"/><line x1="1318.4" y1="636.7" x2="1318.4" y2="1161.7"/><line x1="1399.6" y1="636.7" x2="1399.6" y2="1161.7"/><line x1="1480.8" y1="636.7" x2="1480.8" y2="1161.7"/>
</g>
<svg x="149" y="636.7" width="649.6" height="525"><use href="#barbs"/></svg>
<svg x="912.4" y="636.7" width="649.6" height="525"><use href="#barbs"/></svg>

<g fill="none" stroke="#000" stroke-width="1.6">
<rect x="149" y="37.5" width="649.6" height="525"/>
<rect x="912.4" y="37.5" width="649.6" height="525"/>
<rect x="149" y="636.7" width="649.6" height="525"/>
<rect x="912.4" y="636.7" width="649.6" height="525"/>
</g>
<g stroke="#000" stroke-width="1.3">
<path d="M143,37.5H149M143,95.8H149M143,154.2H149M143,212.5H149M143,270.8H149M143,329.2H149M143,387.5H149M143,445.8H149M143,504.2H149M143,562.5H149"/>
<path d="M906.4,37.5H912.4M906.4,95.8H912.4M906.4,154.2H912.4M906.4,212.5H912.4M906.4,270.8H912.4M906.4,329.2H912.4M906.4,387.5H912.4M906.4,445.8H912.4M906.4,504.2H912.4M906.4,562.5H912.4"/>
<path d="M143,636.7H149M143,695H149M143,753.4H149M143,811.7H149M143,870H149M143,928.4H149M143,986.7H149M143,1045H149M143,1103.4H149M143,1161.7H149"/>
<path d="M906.4,636.7H912.4M906.4,695H912.4M906.4,753.4H912.4M906.4,811.7H912.4M906.4,870H912.4M906.4,928.4H912.4M906.4,986.7H912.4M906.4,1045H912.4M906.4,1103.4H912.4M906.4,1161.7H912.4"/>
<path d="M149,562.5V567M230.2,562.5V567M311.4,562.5V567M392.6,562.5V567M473.8,562.5V567M555,562.5V567M636.2,562.5V567M717.4,562.5V567M798.6,562.5V567"/>
<path d="M912.4,562.5V567M993.6,562.5V567M1074.8,562.5V567M1156,562.5V567M1237.2,562.5V567M1318.4,562.5V567M1399.6,562.5V567M1480.8,562.5V567M1562,562.5V567"/>
<path d="M149,1161.7V1166M230.2,1161.7V1166M311.4,1161.7V1166M392.6,1161.7V1166M473.8,1161.7V1166M555,1161.7V1166M636.2,1161.7V1166M717.4,1161.7V1166M798.6,1161.7V1166"/>
<path d="M912.4,1161.7V1166M993.6,1161.7V1166M1074.8,1161.7V1166M1156,1161.7V1166M1237.2,1161.7V1166M1318.4,1161.7V1166M1399.6,1161.7V1166M1480.8,1161.7V1166M1562,1161.7V1166"/>
</g>
<g class="ax" text-anchor="end" fill="#000">
<text x="140" y="43" textLength="27" lengthAdjust="spacingAndGlyphs">100</text><text x="140" y="101.3" textLength="27" lengthAdjust="spacingAndGlyphs">200</text><text x="140" y="159.7" textLength="27" lengthAdjust="spacingAndGlyphs">300</text><text x="140" y="218" textLength="27" lengthAdjust="spacingAndGlyphs">400</text><text x="140" y="276.3" textLength="27" lengthAdjust="spacingAndGlyphs">500</text><text x="140" y="334.7" textLength="27" lengthAdjust="spacingAndGlyphs">600</text><text x="140" y="393" textLength="27" lengthAdjust="spacingAndGlyphs">700</text><text x="140" y="451.3" textLength="27" lengthAdjust="spacingAndGlyphs">800</text><text x="140" y="509.7" textLength="27" lengthAdjust="spacingAndGlyphs">900</text><text x="140" y="568" textLength="35" lengthAdjust="spacingAndGlyphs">1000</text>
<text x="140" y="642.2" textLength="27" lengthAdjust="spacingAndGlyphs">100</text><text x="140" y="700.5" textLength="27" lengthAdjust="spacingAndGlyphs">200</text><text x="140" y="758.9" textLength="27" lengthAdjust="spacingAndGlyphs">300</text><text x="140" y="817.2" textLength="27" lengthAdjust="spacingAndGlyphs">400</text><text x="140" y="875.5" textLength="27" lengthAdjust="spacingAndGlyphs">500</text><text x="140" y="933.9" textLength="27" lengthAdjust="spacingAndGlyphs">600</text><text x="140" y="992.2" textLength="27" lengthAdjust="spacingAndGlyphs">700</text><text x="140" y="1050.5" textLength="27" lengthAdjust="spacingAndGlyphs">800</text><text x="140" y="1108.9" textLength="27" lengthAdjust="spacingAndGlyphs">900</text><text x="140" y="1167.2" textLength="35" lengthAdjust="spacingAndGlyphs">1000</text>
<text x="904" y="43">%</text><text x="904" y="101.3">%</text><text x="904" y="159.7">%</text><text x="904" y="218">%</text><text x="904" y="276.3">%</text><text x="904" y="334.7">%</text><text x="904" y="393">%</text><text x="904" y="451.3">%</text><text x="904" y="509.7">%</text><text x="904" y="568">%</text>
<text x="904" y="642.2">%</text><text x="904" y="700.5">%</text><text x="904" y="758.9">%</text><text x="904" y="817.2">%</text><text x="904" y="875.5">%</text><text x="904" y="933.9">%</text><text x="904" y="992.2">%</text><text x="904" y="1050.5">%</text><text x="904" y="1108.9">%</text><text x="904" y="1167.2">%</text>
</g>
<g class="ax" text-anchor="middle" fill="#000">
<text x="149" y="580.5">18Z</text><text x="230.2" y="580.5">00Z</text><text x="311.4" y="580.5">06Z</text><text x="392.6" y="580.5">12Z</text><text x="473.8" y="580.5">18Z</text><text x="555" y="580.5">00Z</text><text x="636.2" y="580.5">06Z</text><text x="717.4" y="580.5">12Z</text><text x="798.6" y="580.5">18Z</text>
<text x="149" y="596.5">6DEC</text><text x="230.2" y="596.5">7DEC</text><text x="555" y="596.5">8DEC</text><text x="149" y="612.5">2025</text>
<text x="912.4" y="580.5">18Z</text><text x="993.6" y="580.5">00Z</text><text x="1074.8" y="580.5">06Z</text><text x="1156" y="580.5">12Z</text><text x="1237.2" y="580.5">18Z</text><text x="1318.4" y="580.5">00Z</text><text x="1399.6" y="580.5">06Z</text><text x="1480.8" y="580.5">12Z</text><text x="1562" y="580.5">18Z</text>
<text x="912.4" y="596.5">6DEC</text><text x="993.6" y="596.5">7DEC</text><text x="1318.4" y="596.5">8DEC</text><text x="912.4" y="612.5">2025</text>
<text x="149" y="1179.7">18Z</text><text x="230.2" y="1179.7">00Z</text><text x="311.4" y="1179.7">06Z</text><text x="392.6" y="1179.7">12Z</text><text x="473.8" y="1179.7">18Z</text><text x="555" y="1179.7">00Z</text><text x="636.2" y="1179.7">06Z</text><text x="717.4" y="1179.7">12Z</text><text x="798.6" y="1179.7">18Z</text>
<text x="149" y="1195.7">6DEC</text><text x="230.2" y="1195.7">7DEC</text><text x="555" y="1195.7">8DEC</text><text x="149" y="1211.7">2025</text>
<text x="912.4" y="1179.7">18Z</text><text x="993.6" y="1179.7">00Z</text><text x="1074.8" y="1179.7">06Z</text><text x="1156" y="1179.7">12Z</text><text x="1237.2" y="1179.7">18Z</text><text x="1318.4" y="1179.7">00Z</text><text x="1399.6" y="1179.7">06Z</text><text x="1480.8" y="1179.7">12Z</text><text x="1562" y="1179.7">18Z</text>
<text x="912.4" y="1195.7">6DEC</text><text x="993.6" y="1195.7">7DEC</text><text x="1318.4" y="1195.7">8DEC</text><text x="912.4" y="1211.7">2025</text>
</g>

<g>
<rect x="66" y="111.7" width="15" height="19" fill="#78e678"/><rect x="66" y="130.48" width="15" height="19" fill="#3cb43c"/><rect x="66" y="149.26" width="15" height="19" fill="#008200"/><rect x="66" y="168.04" width="15" height="19" fill="#00288c"/><rect x="66" y="186.82" width="15" height="19" fill="#0046b4"/><rect x="66" y="205.6" width="15" height="19" fill="#0a73e6"/><rect x="66" y="224.38" width="15" height="19" fill="#1496ff"/><rect x="66" y="243.16" width="15" height="19" fill="#32beff"/><rect x="66" y="261.94" width="15" height="19" fill="#96d2ff"/><rect x="66" y="280.72" width="15" height="19" fill="#d7e1ff"/><rect x="66" y="299.5" width="15" height="19" fill="#ffe6e6"/>
<rect x="66" y="318.28" width="15" height="19" fill="#f5c8b4"/><rect x="66" y="337.06" width="15" height="19" fill="#f0b496"/><rect x="66" y="355.84" width="15" height="19" fill="#eb9682"/><rect x="66" y="374.62" width="15" height="19" fill="#e6786e"/><rect x="66" y="393.4" width="15" height="19" fill="#ff5a1e"/><rect x="66" y="412.18" width="15" height="19" fill="#ffa01e"/><rect x="66" y="430.96" width="15" height="19" fill="#ffd21e"/><rect x="66" y="449.74" width="15" height="19" fill="#f5f06e"/><rect x="66" y="468.52" width="15" height="19" fill="#ffff50"/><rect x="66" y="487.3" width="15" height="19" fill="#ffff96"/><rect x="66" y="506.08" width="15" height="18.8" fill="#f2f2f2"/>
</g>
<g>
<rect x="830" y="111.7" width="15" height="23.2" fill="#a01e1e"/><rect x="830" y="134.66" width="15" height="23.2" fill="#b42828"/><rect x="830" y="157.62" width="15" height="23.2" fill="#c83c3c"/><rect x="830" y="180.58" width="15" height="23.2" fill="#ffa000"/><rect x="830" y="203.54" width="15" height="23.2" fill="#ffbe3c"/><rect x="830" y="226.5" width="15" height="23.2" fill="#ffe16e"/><rect x="830" y="249.46" width="15" height="23.2" fill="#fff5a0"/><rect x="830" y="272.42" width="15" height="23.2" fill="#7ef67e"/><rect x="830" y="295.38" width="15" height="23.2" fill="#3cd23c"/>
<rect x="830" y="318.34" width="15" height="23.2" fill="#0fa00f"/><rect x="830" y="341.3" width="15" height="23.2" fill="#1464d2"/><rect x="830" y="364.26" width="15" height="23.2" fill="#1e3cff"/><rect x="830" y="387.22" width="15" height="23.2" fill="#2800a0"/><rect x="830" y="410.18" width="15" height="23.2" fill="#2d1e9b"/><rect x="830" y="433.14" width="15" height="23.2" fill="#4b3cc8"/><rect x="830" y="456.1" width="15" height="23.2" fill="#7060dc"/><rect x="830" y="479.06" width="15" height="23.2" fill="#8070e8"/><rect x="830" y="502.02" width="15" height="23" fill="#f2f2f2"/>
</g>
<g id="cbuv">
<rect x="66" y="711.6" width="15" height="22" fill="#ff0000"/><rect x="66" y="733.32" width="15" height="22" fill="#ff1e1e"/><rect x="66" y="755.04" width="15" height="22" fill="#ff3c3c"/><rect x="66" y="776.76" width="15" height="22" fill="#ff5a5a"/><rect x="66" y="798.48" width="15" height="22" fill="#ff7070"/><rect x="66" y="820.2" width="15" height="22" fill="#ff8c8c"/><rect x="66" y="841.92" width="15" height="22" fill="#ffa8a8"/><rect x="66" y="863.64" width="15" height="22" fill="#ffc3c3"/><rect x="66" y="885.36" width="15" height="22" fill="#ffe1e1"/>
<rect x="66" y="928.8" width="15" height="22" fill="#e6f0e6"/><rect x="66" y="950.52" width="15" height="22" fill="#d2e6d2"/><rect x="66" y="972.24" width="15" height="22" fill="#b4d7b4"/><rect x="66" y="993.96" width="15" height="22" fill="#9bcd96"/><rect x="66" y="1015.68" width="15" height="22" fill="#80bd7a"/><rect x="66" y="1037.4" width="15" height="22" fill="#62ad5a"/><rect x="66" y="1059.12" width="15" height="22" fill="#48a03f"/><rect x="66" y="1080.84" width="15" height="22" fill="#2e9125"/><rect x="66" y="1102.56" width="15" height="21.7" fill="#178a10"/>
</g>
<use href="#cbuv" x="764"/>
<g class="ax" fill="#000">
<text x="87" y="135.5">100</text><text x="87" y="154.3">95</text><text x="87" y="173">90</text><text x="87" y="191.8">85</text><text x="87" y="210.6">80</text><text x="87" y="229.4">75</text><text x="87" y="248.2">70</text><text x="87" y="266.9">65</text><text x="87" y="285.7">60</text><text x="87" y="304.5">55</text><text x="87" y="323.3">50</text>
<text x="87" y="342.1">45</text><text x="87" y="360.8">40</text><text x="87" y="379.6">35</text><text x="87" y="398.4">30</text><text x="87" y="417.2">25</text><text x="87" y="436">20</text><text x="87" y="454.7">15</text><text x="87" y="473.5">10</text><text x="87" y="492.3">5</text><text x="87" y="511.1">0</text>
<text x="851" y="139.7">100</text><text x="851" y="162.6">70</text><text x="851" y="185.6">55</text><text x="851" y="208.5">40</text><text x="851" y="231.5">30</text><text x="851" y="254.5">22</text><text x="851" y="277.4">15</text><text x="851" y="300.4">9</text><text x="851" y="323.3">6</text>
<text x="851" y="346.3">2</text><text x="851" y="369.3">0</text><text x="851" y="392.2">−2</text><text x="851" y="415.2">−5</text><text x="851" y="438.1">−10</text><text x="851" y="461.1">−18</text><text x="851" y="484.1">−30</text><text x="851" y="507">−45</text>
</g>
<g class="ax" fill="#000" id="cbuvl">
<text x="87" y="738.3">40</text><text x="87" y="760">30</text><text x="87" y="781.8">22</text><text x="87" y="803.5">16</text><text x="87" y="825.2">12</text><text x="87" y="846.9">9</text><text x="87" y="868.6">6</text><text x="87" y="890.4">3</text><text x="87" y="912.1">1</text>
<text x="87" y="933.8">−1</text><text x="87" y="955.5">−3</text><text x="87" y="977.2">−6</text><text x="87" y="999">−9</text><text x="87" y="1020.7">−12</text><text x="87" y="1042.4">−16</text><text x="87" y="1064.1">−22</text><text x="87" y="1085.8">−30</text><text x="87" y="1107.6">−40</text>
</g>
<use href="#cbuvl" x="764"/>

<g fill="#000" font-size="25">
<text x="430" y="24" textLength="86" lengthAdjust="spacing">RH (%)</text>
<text x="993" y="24" textLength="492" lengthAdjust="spacing">ThetaE (K) and Vertical Velocity (cm/s)</text>
<text x="302" y="625" textLength="344" lengthAdjust="spacing">U wind component (m s−1)</text>
<text x="1065" y="625" textLength="344" lengthAdjust="spacing">V wind component (m s−1)</text>
</g>
<text transform="translate(34,977) rotate(-90)" font-size="36" fill="#000" textLength="719" lengthAdjust="spacingAndGlyphs">Upper−Air Time Sections Plots</text>
</svg>
</body></html>
